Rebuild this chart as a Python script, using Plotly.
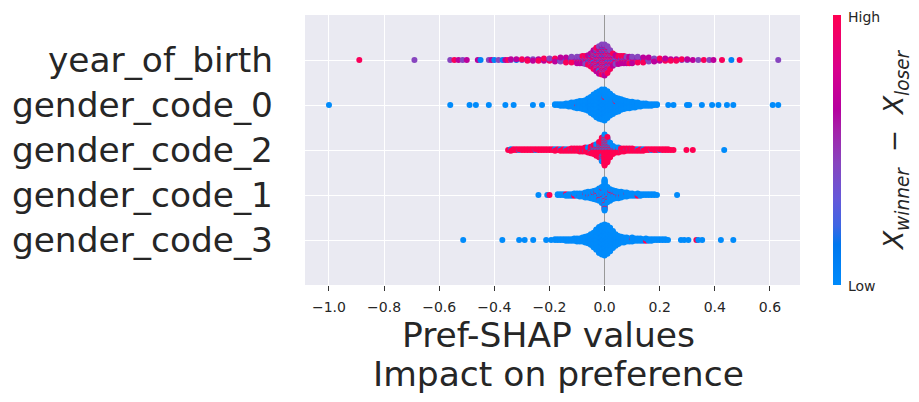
import numpy as np
import plotly.graph_objects as go

# rows from bottom to top
features = ["gender_code_3", "gender_code_1", "gender_code_2", "gender_code_0", "year_of_birth"]

# year_of_birth: SHAP value bins and number of dots per feature-value level
yob_levels = [0.05, 0.45, 0.68, 0.97]
yob_x = [-0.89, -0.69, -0.56, -0.545, -0.53, -0.515, -0.50, -0.46, -0.45, -0.42, -0.41, -0.40, -0.385, -0.37, -0.36, -0.35,
         -0.34, -0.32, -0.30, -0.28, -0.26, -0.24, -0.22, -0.20, -0.18, -0.16, -0.14, -0.12,
         -0.10, -0.09, -0.08, -0.07, -0.06, -0.05, -0.04, -0.03, -0.02, -0.01, 0.00, 0.01, 0.02, 0.03, 0.04, 0.05, 0.06, 0.07, 0.08, 0.09, 0.10,
         0.12, 0.14, 0.16, 0.18, 0.20, 0.22, 0.24, 0.26, 0.28, 0.30, 0.32, 0.34, 0.36, 0.38, 0.395, 0.426, 0.46, 0.49, 0.63]
yob_blue = [0, 0, 0, 0, 0, 0, 0, 0, 1, 0, 0, 1, 0, 1, 0, 0,
            0, 1, 0, 0, 1, 0, 1, 0, 1, 1, 1, 1,
            1, 1, 1, 1, 1, 2, 2, 3, 3, 4, 4, 3, 2, 1, 1, 1, 1, 1, 1, 0, 1,
            1, 1, 1, 0, 1, 0, 0, 0, 0, 0, 0, 0, 0, 0, 0, 0, 1, 0, 0]
yob_purple = [0, 1, 1, 0, 0, 1, 0, 0, 0, 1, 0, 0, 1, 0, 0, 0,
              1, 0, 1, 1, 1, 1, 1, 2, 1, 2, 2, 3,
              3, 3, 3, 4, 4, 5, 7, 9, 11, 12, 12, 11, 8, 5, 4, 3, 3, 3, 3, 3, 3,
              3, 2, 2, 2, 1, 1, 1, 1, 1, 1, 0, 1, 0, 1, 0, 0, 0, 0, 1]
yob_magenta = [0, 0, 0, 0, 1, 0, 1, 1, 0, 0, 1, 0, 0, 0, 1, 0,
               1, 1, 0, 1, 1, 1, 1, 1, 2, 2, 2, 2,
               3, 3, 3, 3, 4, 5, 8, 9, 11, 11, 12, 10, 7, 5, 4, 4, 3, 3, 3, 3, 3,
               2, 2, 2, 2, 1, 2, 1, 1, 0, 1, 1, 0, 0, 0, 1, 0, 0, 0, 0]
yob_red = [1, 0, 0, 1, 0, 0, 0, 0, 0, 0, 0, 0, 0, 0, 0, 1,
           0, 0, 1, 1, 0, 1, 1, 1, 1, 1, 2, 2,
           2, 2, 3, 3, 4, 5, 7, 9, 10, 11, 11, 10, 7, 5, 3, 3, 3, 3, 2, 3, 2,
           2, 2, 1, 1, 1, 1, 1, 1, 1, 0, 0, 0, 1, 0, 0, 1, 0, 1, 0]

# gender codes are one-hot: low = 0, high = 1
gc_levels = [0.0, 1.0]

gc0_x = [-1.0, -0.56, -0.49, -0.467, -0.42, -0.36, -0.33, -0.26, -0.227,
         -0.18, -0.17, -0.16, -0.15, -0.14, -0.13, -0.12, -0.11, -0.10, -0.09, -0.08, -0.07, -0.06, -0.05, -0.04, -0.03, -0.02, -0.01,
         0.00, 0.01, 0.02, 0.03, 0.04, 0.05, 0.06, 0.07, 0.08, 0.09, 0.10, 0.11, 0.12, 0.13, 0.14, 0.15, 0.16, 0.17, 0.18, 0.19,
         0.231, 0.25, 0.299, 0.307, 0.353, 0.39, 0.413, 0.444, 0.467, 0.61, 0.63]
gc0_low = [1, 1, 1, 1, 1, 1, 1, 1, 1,
           2, 2, 3, 3, 4, 5, 6, 7, 8, 10, 11, 13, 16, 21, 26, 31, 35, 38,
           38, 34, 28, 23, 18, 17, 14, 12, 10, 9, 8, 7, 6, 5, 4, 4, 3, 3, 2, 2,
           1, 1, 1, 1, 1, 1, 1, 1, 1, 1, 1]
gc0_high = [0, 0, 0, 0, 0, 0, 0, 0, 0,
            0, 0, 0, 0, 0, 0, 0, 0, 1, 0, 0, 0, 0, 0, 0, 0, 0, 0,
            1, 0, 0, 0, 1, 0, 0, 0, 0, 0, 0, 0, 0, 0, 0, 0, 0, 0, 0, 0,
            0, 0, 0, 0, 0, 0, 0, 0, 0, 0, 0]

gc2_x = [-0.35, -0.34, -0.33, -0.32, -0.31, -0.30, -0.29, -0.28, -0.27, -0.26, -0.25, -0.24, -0.23, -0.22, -0.21, -0.20,
         -0.19, -0.18, -0.17, -0.16, -0.15, -0.14, -0.13, -0.12, -0.11, -0.10, -0.09, -0.08, -0.07, -0.06, -0.05, -0.04,
         -0.03, -0.02, -0.01, 0.00, 0.01, 0.02, 0.03, 0.04, 0.05, 0.06, 0.07, 0.08, 0.09, 0.10, 0.11, 0.12,
         0.13, 0.14, 0.15, 0.16, 0.17, 0.18, 0.19, 0.20, 0.21, 0.22, 0.23, 0.24, 0.25, 0.297, 0.32, 0.434]
gc2_low = [0, 1, 0, 0, 1, 0, 0, 0, 0, 0, 1, 0, 0, 0, 0, 0,
           0, 1, 0, 1, 0, 1, 0, 1, 1, 1, 1, 1, 1, 2, 2, 3,
           4, 5, 8, 10, 8, 5, 3, 2, 2, 1, 1, 1, 1, 1, 0, 1,
           0, 1, 0, 0, 1, 0, 0, 1, 0, 0, 0, 0, 0, 0, 0, 1]
gc2_high = [1, 2, 2, 2, 1, 2, 2, 2, 2, 2, 1, 2, 2, 2, 2, 2,
            2, 2, 2, 2, 3, 2, 3, 3, 3, 3, 4, 4, 5, 5, 7, 9,
            11, 15, 22, 29, 24, 14, 8, 5, 5, 4, 4, 3, 3, 3, 3, 2,
            3, 2, 2, 2, 1, 2, 2, 1, 2, 2, 2, 1, 1, 1, 1, 0]

gc1_x = [-0.24, -0.208, -0.20,
         -0.17, -0.16, -0.15, -0.14, -0.13, -0.12, -0.11, -0.10, -0.09, -0.08, -0.07, -0.06, -0.05, -0.04, -0.03, -0.02, -0.01,
         0.00, 0.01, 0.02, 0.03, 0.04, 0.05, 0.06, 0.07, 0.08, 0.09, 0.10, 0.11, 0.12, 0.13, 0.14, 0.15, 0.16, 0.17, 0.18, 0.19,
         0.263]
gc1_low = [1, 1, 0,
           2, 2, 2, 2, 3, 3, 3, 4, 4, 5, 6, 7, 8, 10, 11, 14, 18,
           35, 17, 13, 10, 9, 8, 7, 6, 5, 4, 4, 3, 3, 3, 2, 2, 2, 2, 2, 1,
           1]
gc1_high = [0, 0, 1,
            0, 0, 0, 1, 0, 0, 1, 0, 1, 0, 1, 1, 1, 1, 2, 2, 3,
            4, 3, 2, 2, 1, 1, 1, 0, 1, 0, 0, 0, 1, 0, 0, 0, 0, 0, 0, 0,
            0]

gc3_x = [-0.513, -0.371, -0.31, -0.29, -0.259, -0.212, -0.194,
         -0.18, -0.17, -0.16, -0.15, -0.14, -0.13, -0.12, -0.11, -0.10, -0.09, -0.08, -0.07, -0.06, -0.05, -0.04, -0.03, -0.02, -0.01,
         0.00, 0.01, 0.02, 0.03, 0.04, 0.05, 0.06, 0.07, 0.08, 0.09, 0.10, 0.11, 0.12, 0.13, 0.14, 0.15, 0.16, 0.17, 0.18, 0.19,
         0.20, 0.21, 0.22, 0.23, 0.277, 0.289, 0.304, 0.333, 0.34, 0.354, 0.422, 0.467]
gc3_low = [1, 1, 1, 1, 1, 1, 1,
           2, 2, 2, 2, 3, 3, 3, 4, 5, 5, 6, 8, 10, 14, 19, 26, 33, 37,
           39, 36, 30, 22, 15, 11, 8, 7, 6, 5, 5, 4, 4, 4, 3, 3, 3, 3, 2, 2,
           2, 2, 2, 1, 1, 1, 1, 0, 1, 1, 1, 1]
gc3_high = [0, 0, 0, 0, 0, 0, 0,
            0, 0, 0, 0, 0, 0, 0, 0, 0, 0, 0, 0, 0, 0, 0, 0, 0, 0,
            0, 0, 0, 0, 0, 0, 0, 0, 0, 0, 1, 0, 0, 0, 0, 1, 0, 0, 0, 0,
            0, 0, 0, 0, 0, 0, 0, 1, 0, 0, 0, 0]

rows = [
    (gc3_x, [gc3_low, gc3_high], gc_levels),
    (gc1_x, [gc1_low, gc1_high], gc_levels),
    (gc2_x, [gc2_low, gc2_high], gc_levels),
    (gc0_x, [gc0_low, gc0_high], gc_levels),
    (yob_x, [yob_blue, yob_purple, yob_magenta, yob_red], yob_levels),
]

tick_vals = [-1.0, -0.8, -0.6, -0.4, -0.2, 0.0, 0.2, 0.4, 0.6]
tick_text = ["\u22121.0", "\u22120.8", "\u22120.6", "\u22120.4", "\u22120.2", "0.0", "0.2", "0.4", "0.6"]

red_blue = [[0.0, "#008bfb"], [0.15, "#0077ee"], [0.22, "#3f65e3"], [0.32, "#6558d9"],
            [0.45, "#8745bf"], [0.57, "#a423aa"], [0.65, "#b6009f"], [0.8, "#d9008c"], [1.0, "#ff0051"]]


def swarm(xs, counts, levels, pos, row_height=0.4):
    # stack dots of each bin alternately above/below the row, like shap's beeswarm
    px, py, pc = [], [], []
    for i, x in enumerate(xs):
        dots = []
        for lev, cnt in zip(levels, counts):
            n = cnt[i]
            dots += [((k + 0.5) / n, lev) for k in range(n)]
        dots.sort(key=lambda d: d[0])
        for layer, (_, lev) in enumerate(dots):
            px.append(x)
            pc.append(lev)
            py.append(np.ceil(layer / 2) * ((layer % 2) * 2 - 1))
    py = np.array(py, dtype=float)
    py = pos + py * 0.9 * row_height / (py.max() + 1)
    return px, list(py), pc


all_x, all_y, all_c = [], [], []
for pos, (xs, counts, levels) in enumerate(rows):
    a, b, c = swarm(xs, counts, levels, pos)
    all_x += a
    all_y += b
    all_c += c

font = "DejaVu Sans"
txt = "#262626"

fig = go.Figure(go.Scatter(
    x=all_x, y=all_y, mode="markers", hoverinfo="skip",
    marker=dict(size=6, color=all_c, colorscale=red_blue, cmin=0, cmax=1, line_width=0,
                showscale=True,
                colorbar=dict(thickness=8, len=1, lenmode="fraction", x=1.0667, xanchor="left",
                              y=0.5, yanchor="middle", xpad=0, ypad=0, outlinewidth=0,
                              ticks="", showticklabels=False))))

# the page body has an 8px margin, so the figure is 8px smaller each way
fig.update_layout(
    width=911, height=394, autosize=False,
    margin=dict(l=297, r=119, t=7, b=117, autoexpand=False),
    paper_bgcolor="white", plot_bgcolor="#eaeaf2",
    showlegend=False,
    font=dict(family=font, color=txt),
    xaxis=dict(range=[-1.087, 0.709], tickvals=tick_vals, ticktext=tick_text,
               showgrid=True, gridcolor="white", gridwidth=1.2,
               zeroline=True, zerolinecolor="#999999", zerolinewidth=1,
               ticks="outside", ticklen=5, tickwidth=1.2, tickcolor="#333333", automargin=False,
               ticklabelstandoff=4, tickfont=dict(size=14, color=txt), showline=False),
    yaxis=dict(range=[-1, 5], tickvals=list(range(len(features))), ticktext=features,
               showgrid=True, gridcolor="white", gridwidth=1.2, zeroline=False, automargin=False,
               ticks="", ticklabelstandoff=31, tickfont=dict(size=34.4, color=txt), showline=False),
    annotations=[
        dict(text="Pref-SHAP values", x=0.491, y=-0.186, xref="paper", yref="paper",
             showarrow=False, xanchor="center", yanchor="middle", font=dict(size=34.5, color=txt)),
        dict(text="Impact on preference", x=0.513, y=-0.3296, xref="paper", yref="paper",
             showarrow=False, xanchor="center", yanchor="middle", font=dict(size=34.5, color=txt)),
        dict(text="<i>X</i><sub><i>winner</i></sub>\u2009\u2009\u2009\u2212\u2009\u2009\u2009<i>X</i><sub><i>loser</i></sub>",
             x=1.192, y=0.5, xref="paper", yref="paper", textangle=-90,
             showarrow=False, xanchor="center", yanchor="middle", font=dict(size=26.5, color=txt)),
        dict(text="High", x=1.093, y=0.993, xref="paper", yref="paper",
             showarrow=False, xanchor="left", yanchor="middle", font=dict(size=14, color=txt)),
        dict(text="Low", x=1.093, y=-0.004, xref="paper", yref="paper",
             showarrow=False, xanchor="left", yanchor="middle", font=dict(size=14, color=txt)),
    ],
)

fig.write_html("out.html")
